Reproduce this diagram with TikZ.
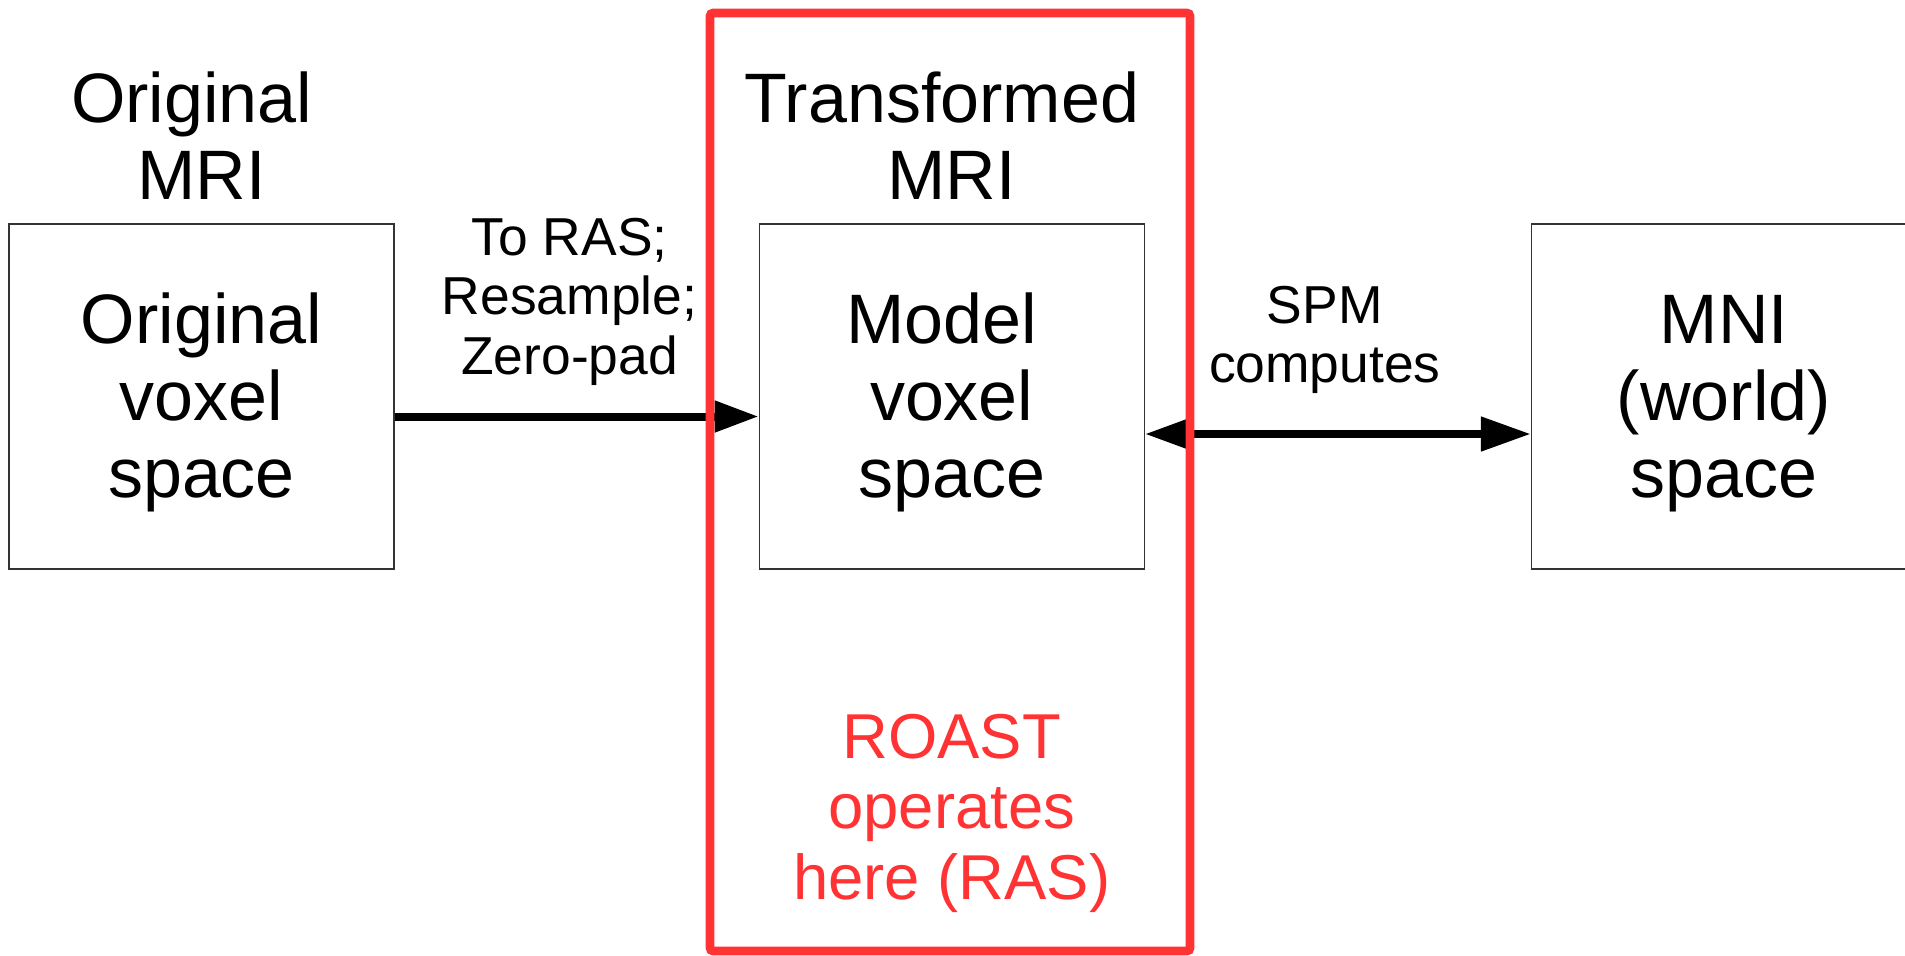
\documentclass[tikz,border=0pt]{standalone}
\usepackage{fontspec}
\setmainfont{Liberation Sans}
\usetikzlibrary{positioning,arrows.meta}
\definecolor{roastred}{RGB}{255,51,51}
\newcommand{\boxfont}{\fontsize{35pt}{38.5pt}\selectfont}
\newcommand{\notefont}{\fontsize{26.7pt}{29.75pt}\selectfont}
\newcommand{\roastfont}{\fontsize{31.7pt}{35.25pt}\selectfont}
\newcommand{\tail}{\hspace*{0.28em}}
\tikzstyle{spacebox}=[draw=black!80, line width=0.6pt, minimum width=192.5pt, minimum height=172.5pt, align=center, inner sep=0pt, text height=108pt, font=\boxfont]
\tikzstyle{boxtitle}=[align=center, inner sep=0pt, font=\boxfont]
\tikzstyle{arrownote}=[align=center, inner sep=0pt, font=\notefont]
\tikzstyle{spacelink}=[line width=4pt]

\begin{document}
\begin{tikzpicture}[x=0.5pt, y=-0.5pt]
    \useasboundingbox (0,0) rectangle (1905,955);
    \clip (0,0) rectangle (1905,955);
% Spaces
    \node[spacebox] (orig) at (201.5,396.5) {Original\\voxel\\space};
    \node[spacebox, right=182pt of orig] (model) {Model\tail\\voxel\\space};
    \node[spacebox, right=193pt of model] (mni) {MNI\\(world)\tail\\space};
% Titles
    \node[boxtitle, above=12pt of orig] (origtitle) {Original\tail\\MRI};
    \node[boxtitle, above=12pt of model] (modeltitle) {Transformed\tail\\MRI};
% Transforms between spaces
    \draw[spacelink, -{Triangle[length=22pt, width=15pt]}] ([yshift=-10pt]orig.east) -- ([yshift=-10pt]model.west)
        node[arrownote, midway, above=13.5pt, xshift=-3.5pt] (resample) {To RAS;\\Resample;\\Zero-pad};
    \draw[spacelink, {Triangle[length=22pt, width=14.5pt]}-{Triangle[length=25pt, width=16.5pt]}] ([yshift=-18.75pt]model.east) -- ([yshift=-18.75pt]mni.west)
        node[arrownote, midway, above=18pt, xshift=-6.5pt] (spm) {SPM\\computes};
% ROAST region
    \node[boxtitle, text=roastred, font=\roastfont, below=72pt of model] (roast) {ROAST\\operates\tail\\here (RAS)};
    \draw[roastred, line width=4.3pt, rounded corners=1.5pt] (710,13) rectangle (1190,951);
\end{tikzpicture}
\end{document}
